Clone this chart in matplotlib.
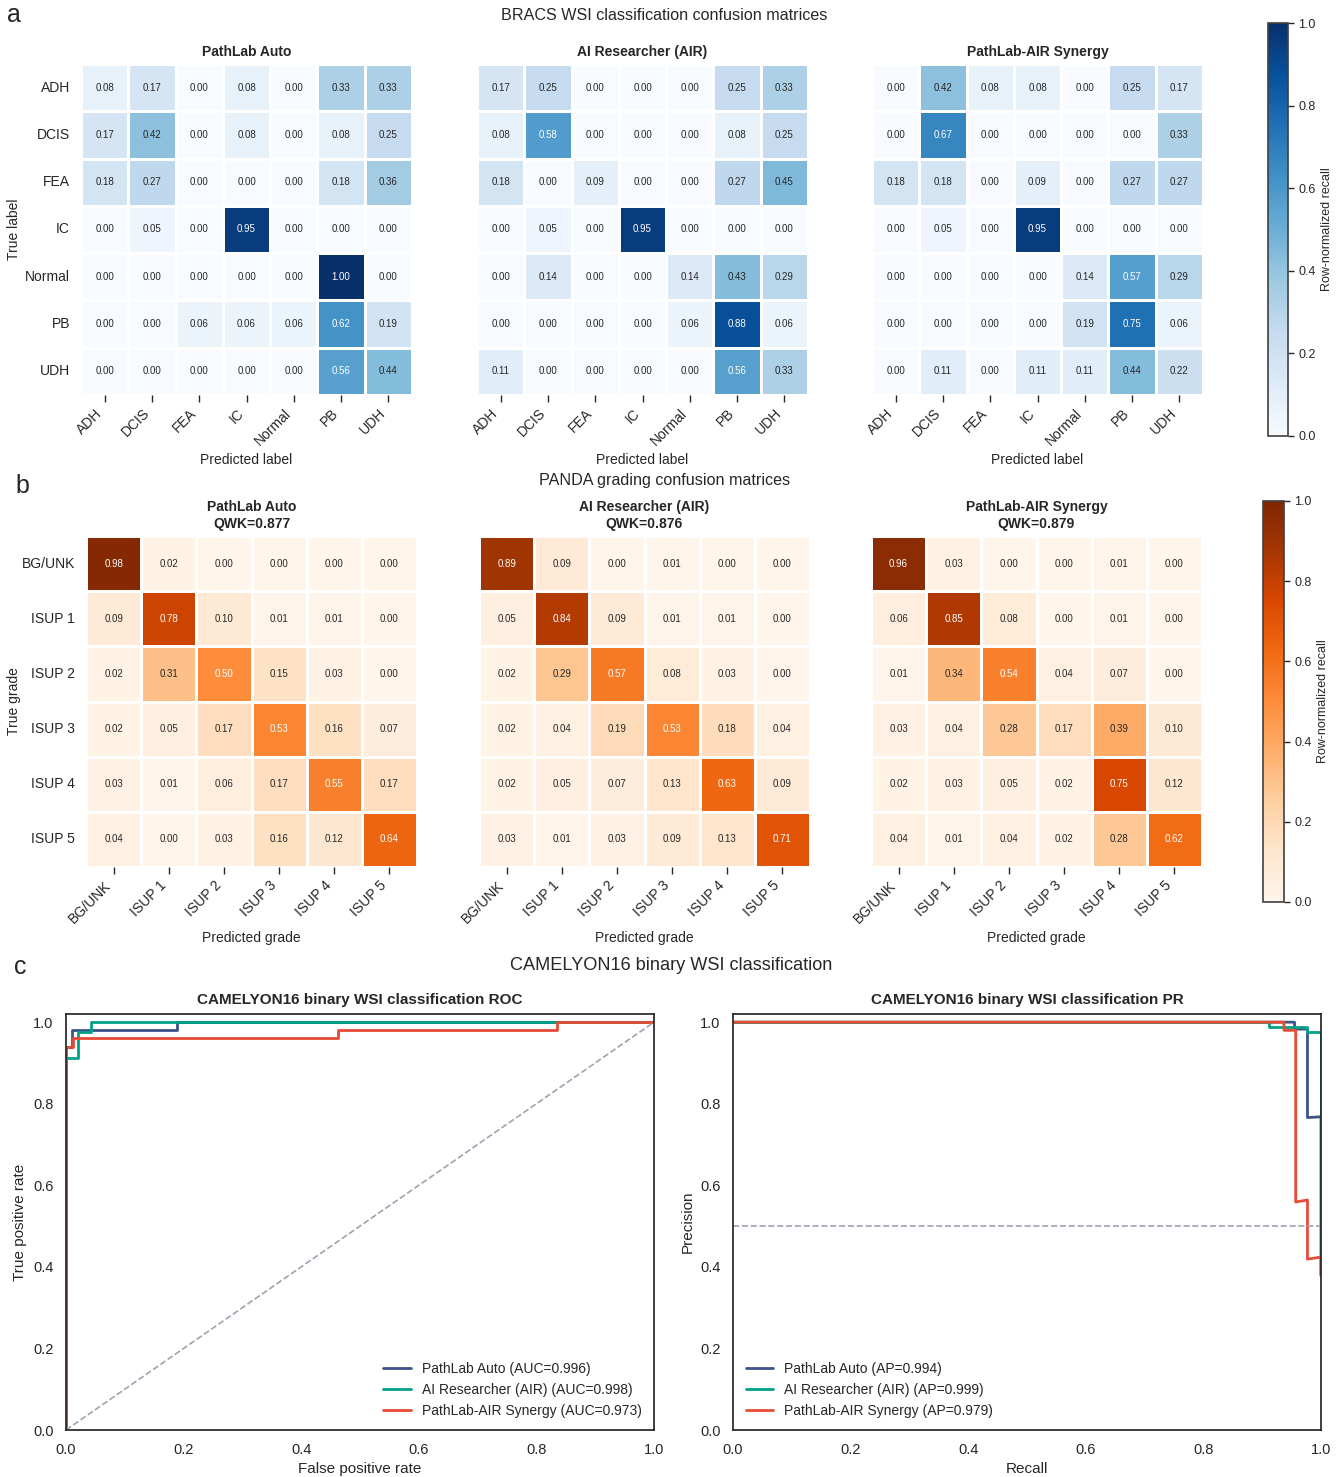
import matplotlib
matplotlib.use('Agg')
import matplotlib.pyplot as plt
import matplotlib as mpl
import numpy as np
import seaborn as sns

# ---- data ----
bracs_classes = ['ADH', 'DCIS', 'FEA', 'IC', 'Normal', 'PB', 'UDH']
bracs_pathlab = [
    [0.08, 0.17, 0.00, 0.08, 0.00, 0.33, 0.33],
    [0.17, 0.42, 0.00, 0.08, 0.00, 0.08, 0.25],
    [0.18, 0.27, 0.00, 0.00, 0.00, 0.18, 0.36],
    [0.00, 0.05, 0.00, 0.95, 0.00, 0.00, 0.00],
    [0.00, 0.00, 0.00, 0.00, 0.00, 1.00, 0.00],
    [0.00, 0.00, 0.06, 0.06, 0.06, 0.62, 0.19],
    [0.00, 0.00, 0.00, 0.00, 0.00, 0.56, 0.44]]
bracs_air = [
    [0.17, 0.25, 0.00, 0.00, 0.00, 0.25, 0.33],
    [0.08, 0.58, 0.00, 0.00, 0.00, 0.08, 0.25],
    [0.18, 0.00, 0.09, 0.00, 0.00, 0.27, 0.45],
    [0.00, 0.05, 0.00, 0.95, 0.00, 0.00, 0.00],
    [0.00, 0.14, 0.00, 0.00, 0.14, 0.43, 0.29],
    [0.00, 0.00, 0.00, 0.00, 0.06, 0.88, 0.06],
    [0.11, 0.00, 0.00, 0.00, 0.00, 0.56, 0.33]]
bracs_synergy = [
    [0.00, 0.42, 0.08, 0.08, 0.00, 0.25, 0.17],
    [0.00, 0.67, 0.00, 0.00, 0.00, 0.00, 0.33],
    [0.18, 0.18, 0.00, 0.09, 0.00, 0.27, 0.27],
    [0.00, 0.05, 0.00, 0.95, 0.00, 0.00, 0.00],
    [0.00, 0.00, 0.00, 0.00, 0.14, 0.57, 0.29],
    [0.00, 0.00, 0.00, 0.00, 0.19, 0.75, 0.06],
    [0.00, 0.11, 0.00, 0.11, 0.11, 0.44, 0.22]]

panda_classes = ['BG/UNK', 'ISUP 1', 'ISUP 2', 'ISUP 3', 'ISUP 4', 'ISUP 5']
panda_pathlab = [
    [0.98, 0.02, 0.00, 0.00, 0.00, 0.00],
    [0.09, 0.78, 0.10, 0.01, 0.01, 0.00],
    [0.02, 0.31, 0.50, 0.15, 0.03, 0.00],
    [0.02, 0.05, 0.17, 0.53, 0.16, 0.07],
    [0.03, 0.01, 0.06, 0.17, 0.55, 0.17],
    [0.04, 0.00, 0.03, 0.16, 0.12, 0.64]]
panda_air = [
    [0.89, 0.09, 0.00, 0.01, 0.00, 0.00],
    [0.05, 0.84, 0.09, 0.01, 0.01, 0.00],
    [0.02, 0.29, 0.57, 0.08, 0.03, 0.00],
    [0.02, 0.04, 0.19, 0.53, 0.18, 0.04],
    [0.02, 0.05, 0.07, 0.13, 0.63, 0.09],
    [0.03, 0.01, 0.03, 0.09, 0.13, 0.71]]
panda_synergy = [
    [0.96, 0.03, 0.00, 0.00, 0.01, 0.00],
    [0.06, 0.85, 0.08, 0.00, 0.01, 0.00],
    [0.01, 0.34, 0.54, 0.04, 0.07, 0.00],
    [0.03, 0.04, 0.28, 0.17, 0.39, 0.10],
    [0.02, 0.03, 0.05, 0.02, 0.75, 0.12],
    [0.04, 0.01, 0.04, 0.02, 0.28, 0.62]]
panda_qwk = [0.877, 0.876, 0.879]

model_names = ['PathLab Auto', 'AI Researcher (AIR)', 'PathLab-AIR Synergy']

# ROC curves (fpr, tpr)
roc_fpr_pathlab = [0, 0, 0.011, 0.011, 0.188, 0.188, 1.0]
roc_tpr_pathlab = [0, 0.94, 0.94, 0.981, 0.981, 1.0, 1.0]
roc_fpr_air = [0, 0, 0.021, 0.021, 0.042, 0.042, 1.0]
roc_tpr_air = [0, 0.913, 0.913, 0.976, 0.976, 1.0, 1.0]
roc_fpr_synergy = [0, 0, 0.0125, 0.0125, 0.463, 0.463, 0.835, 0.835, 1.0]
roc_tpr_synergy = [0, 0.94, 0.94, 0.961, 0.961, 0.981, 0.981, 1.0, 1.0]
roc_auc = [0.996, 0.998, 0.973]

# PR curves (recall, precision)
pr_rec_pathlab = [0, 0.955, 0.955, 0.977, 0.977, 1.0, 1.0]
pr_prec_pathlab = [1, 1, 0.983, 0.983, 0.766, 0.768, 0.38]
pr_rec_air = [0, 0.912, 0.912, 0.977, 0.977, 1.0, 1.0]
pr_prec_air = [1, 1, 0.989, 0.989, 0.977, 0.977, 0.38]
pr_rec_synergy = [0, 0.937, 0.937, 0.957, 0.957, 0.977, 0.977, 1.0, 1.0]
pr_prec_synergy = [1, 1, 0.980, 0.980, 0.559, 0.564, 0.419, 0.424, 0.377]
pr_ap = [0.994, 0.999, 0.979]
pr_baseline = 0.5

line_colors = ['#3C5488', '#00A087', '#E64B35']

# ---- style ----
sns.set_style('white')
plt.rcParams['font.family'] = ['Liberation Sans', 'DejaVu Sans']
plt.rcParams['text.color'] = '.15'
plt.rcParams['axes.labelcolor'] = '.15'
plt.rcParams['xtick.color'] = '.15'
plt.rcParams['ytick.color'] = '.15'

W, H = 1344, 1477
fig = plt.figure(figsize=(W / 100, H / 100), dpi=100)


def px_rect(x0, y0, x1, y1):
    return [x0 / W, 1 - y1 / H, (x1 - x0) / W, (y1 - y0) / H]


def fig_text(x, y, s, **kw):
    fig.text(x / W, 1 - y / H, s, ha='center', va='center', **kw)


def draw_cm(ax, mat, labels, cmap, title, xlabel, ylabel, ylab_x):
    sns.heatmap(np.array(mat), ax=ax, cmap=cmap, vmin=0, vmax=1, annot=True,
                fmt='.2f', annot_kws={'size': 7}, linewidths=0.8,
                linecolor='white', cbar=False, square=True,
                xticklabels=labels, yticklabels=labels)
    ax.set_title(title, fontsize=10, fontweight='bold', pad=6)
    ax.set_xticklabels(labels, rotation=45, ha='right', fontsize=10)
    ax.set_yticklabels(labels, rotation=0, fontsize=10)
    ax.tick_params(axis='x', length=5, width=1, bottom=True, pad=3)
    ax.tick_params(axis='y', length=0, pad=8)
    ax.set_xlabel(xlabel, fontsize=10)
    if ylabel:
        ax.set_ylabel(ylabel, fontsize=10)
        ax.yaxis.set_label_coords(ylab_x, 0.5)
    else:
        ax.set_ylabel('')
        ax.set_yticklabels([])


def add_cbar(rect, cmap):
    cax = fig.add_axes(px_rect(*rect))
    sm = mpl.cm.ScalarMappable(norm=mpl.colors.Normalize(0, 1), cmap=cmap)
    cb = fig.colorbar(sm, cax=cax)
    cb.set_ticks([0, 0.2, 0.4, 0.6, 0.8, 1.0])
    cb.ax.tick_params(length=4, width=1, labelsize=9, right=True)
    cb.outline.set_edgecolor('.25')
    cb.outline.set_linewidth(1.2)
    cb.set_label('Row-normalized recall', fontsize=9)


# ---- a: BRACS ----
fig_text(14, 15, 'a', fontsize=18)
fig_text(664, 15, 'BRACS WSI classification confusion matrices', fontsize=11.6)
bracs_mats = [bracs_pathlab, bracs_air, bracs_synergy]
bracs_x = [81, 477, 872]
for i in range(3):
    ax = fig.add_axes(px_rect(bracs_x[i], 64, bracs_x[i] + 331, 395))
    draw_cm(ax, bracs_mats[i], bracs_classes, 'Blues', model_names[i],
            'Predicted label', 'True label' if i == 0 else None, -0.18)
add_cbar((1268, 23, 1288, 436), 'Blues')

# ---- b: PANDA ----
fig_text(22, 486, 'b', fontsize=18)
fig_text(665, 481, 'PANDA grading confusion matrices', fontsize=11.6)
panda_mats = [panda_pathlab, panda_air, panda_synergy]
panda_x = [86, 479, 871]
for i in range(3):
    ax = fig.add_axes(px_rect(panda_x[i], 536, panda_x[i] + 331, 867))
    draw_cm(ax, panda_mats[i], panda_classes, 'Oranges',
            '%s\nQWK=%.3f' % (model_names[i], panda_qwk[i]),
            'Predicted grade', 'True grade' if i == 0 else None, -0.195)
add_cbar((1263, 501, 1284, 902), 'Oranges')

# ---- c: CAMELYON16 ----
fig_text(20, 967, 'c', fontsize=18)
fig_text(671, 966, 'CAMELYON16 binary WSI classification', fontsize=13.1)


def style_curve_ax(ax):
    for sp in ax.spines.values():
        sp.set_visible(True)
        sp.set_color('.15')
        sp.set_linewidth(1.25)
    ax.tick_params(length=0, pad=9, labelsize=10.5)
    ax.set_xlim(0, 1)
    ax.set_ylim(0, 1.02)
    ax.set_xticks([0, 0.2, 0.4, 0.6, 0.8, 1.0])
    ax.set_yticks([0, 0.2, 0.4, 0.6, 0.8, 1.0])


ax_roc = fig.add_axes(px_rect(66, 1014, 654, 1430))
roc_x = [roc_fpr_pathlab, roc_fpr_air, roc_fpr_synergy]
roc_y = [roc_tpr_pathlab, roc_tpr_air, roc_tpr_synergy]
for i in range(3):
    ax_roc.plot(roc_x[i], roc_y[i], color=line_colors[i], lw=2,
                label='%s (AUC=%.3f)' % (model_names[i], roc_auc[i]))
ax_roc.plot([0, 1], [0, 1], ls='--', color='#9ea3b0', lw=1.2)
style_curve_ax(ax_roc)
ax_roc.set_xlabel('False positive rate', fontsize=11)
ax_roc.set_ylabel('True positive rate', fontsize=11)
ax_roc.set_title('CAMELYON16 binary WSI classification ROC', fontsize=11,
                 fontweight='bold', pad=7)
ax_roc.legend(loc='lower right', frameon=False, fontsize=10)

ax_pr = fig.add_axes(px_rect(733, 1014, 1321, 1430))
pr_x = [pr_rec_pathlab, pr_rec_air, pr_rec_synergy]
pr_y = [pr_prec_pathlab, pr_prec_air, pr_prec_synergy]
for i in range(3):
    ax_pr.plot(pr_x[i], pr_y[i], color=line_colors[i], lw=2,
               label='%s (AP=%.3f)' % (model_names[i], pr_ap[i]))
ax_pr.axhline(pr_baseline, ls='--', color='#9ea3b0', lw=1.2)
style_curve_ax(ax_pr)
ax_pr.set_xlabel('Recall', fontsize=11)
ax_pr.set_ylabel('Precision', fontsize=11)
ax_pr.set_title('CAMELYON16 binary WSI classification PR', fontsize=11,
                fontweight='bold', pad=7)
ax_pr.legend(loc='lower left', frameon=False, fontsize=10)

fig.savefig('out.png', dpi=100)
